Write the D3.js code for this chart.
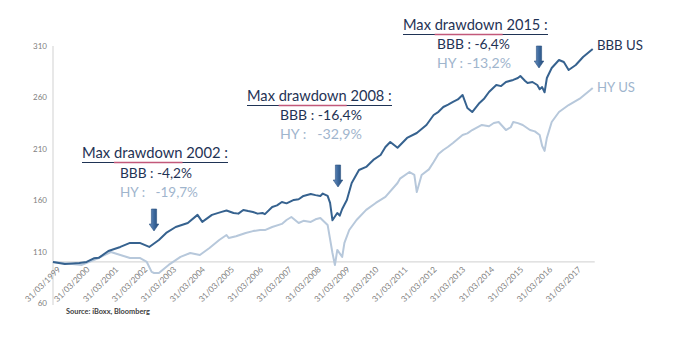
<!DOCTYPE html>
<html><head><meta charset="utf-8">
<script src="https://cdn.jsdelivr.net/npm/d3@7"></script>
<style>
html,body{margin:0;padding:0;background:#fff;}
svg{display:block;}
text{font-family:Lato,"Open Sans",sans-serif;}
</style></head>
<body>
<svg id="chart" width="696" height="339"></svg>
<script>
// ---------- DATA ----------
const bbbDates = ["1999-02","1999-07","2000-01","2000-04","2000-07","2000-09","2001-01","2001-06","2001-10","2002-02","2002-06","2002-10","2003-01","2003-05","2003-10","2004-02","2004-04","2004-08","2004-12","2005-02","2005-05","2005-07","2005-09","2005-11","2006-01","2006-03","2006-05","2006-06","2006-09","2006-11","2007-01","2007-03","2007-06","2007-08","2007-10","2008-01","2008-03","2008-05","2008-06","2008-08","2008-09","2008-10","2008-12","2009-01","2009-02","2009-04","2009-06","2009-09","2009-12","2010-03","2010-06","2010-08","2010-10","2011-01","2011-05","2011-09","2012-01","2012-04","2012-06","2012-08","2012-10","2012-12","2013-02","2013-04","2013-06","2013-08","2013-11","2014-01","2014-03","2014-06","2014-08","2014-10","2015-01","2015-03","2015-04","2015-06","2015-07","2015-09","2015-11","2015-12","2016-01","2016-02","2016-03","2016-05","2016-08","2016-10","2016-12","2017-03","2017-06","2017-10"];
const bbbValues = [100,98,99,100,103.5,104,110.7,114.6,118.5,118.5,114.6,121.4,128.2,134,137.9,145.8,139,145.8,148.7,150,147.6,147,150.6,149.5,148.6,147,147.6,146.5,153.5,155,158.3,157,160.3,161,164.2,166.1,165,164.2,166.5,164.2,157.4,140.5,147.6,145,151.5,160.3,176.8,189.4,192.4,199.2,204,211.8,216.7,211,220.6,225.4,233.2,242.9,246,250.7,253,255.6,258,262.4,249.7,245.8,254.6,259,265.3,272.1,271,275,277,278.9,280.8,276,274,275,272.1,268,270,265,278.9,288.6,296.4,294.4,286.7,291.5,299.3,307.1];

const hyDates = ["1999-02","2000-02","2000-09","2001-02","2001-06","2001-10","2002-02","2002-05","2002-07","2002-08","2002-10","2003-02","2003-07","2003-11","2004-03","2004-07","2004-11","2005-02","2005-03","2005-06","2005-10","2006-01","2006-04","2006-06","2006-09","2007-01","2007-03","2007-05","2007-08","2007-10","2008-01","2008-03","2008-05","2008-08","2008-10","2008-11","2008-12","2009-02","2009-03","2009-05","2009-08","2009-12","2010-04","2010-08","2011-01","2011-02","2011-06","2011-08","2011-09","2011-11","2012-02","2012-04","2012-06","2012-08","2012-10","2012-12","2013-04","2013-06","2013-08","2013-12","2014-03","2014-05","2014-07","2014-10","2014-12","2015-01","2015-03","2015-05","2015-08","2015-10","2015-12","2016-01","2016-02","2016-03","2016-05","2016-08","2016-12","2017-05","2017-09","2017-10"];
const hyValues = [100,97.1,103.9,109.7,106.8,103.9,103.9,100,90.3,89.3,89.3,97.1,104.9,108.7,106.8,113.6,121.4,126.2,123.3,125,128.2,130,131.1,131,134,137,140.8,143.7,137.9,140,138.9,141.5,142.8,136,108.7,97,111.7,104.9,118.5,131.1,140.8,150.6,157.4,163.2,176.8,181,187.5,184.6,168,184.6,190,197.2,205,208.9,212,215.7,223.5,225,228.3,233.2,232,235.1,236.1,228.3,231,236.1,235,233.2,228.3,227,223.5,213,208,220.6,236.1,245.8,252.6,259.4,267.2,269.2];

const yTicks = [60,110,160,210,260,310];
const xTickYears = [1999,2000,2001,2002,2003,2004,2005,2006,2007,2008,2009,2010,2011,2012,2013,2014,2015,2016,2017];
const xTickLabels = xTickYears.map(y => "31/03/" + y);

const annotations = [
  {title:"Max drawdown 2002 :", bbb:"BBB : -4,2%", hy:"HY :   -19,7%"},
  {title:"Max drawdown 2008 :", bbb:"BBB : -16,4%", hy:"HY :   -32,9%"},
  {title:"Max drawdown 2015 :", bbb:"BBB : -6,4%", hy:"HY : -13,2%"}
];
const seriesNames = ["BBB US","HY US"];
const sourceText = "Source: iBoxx, Bloomberg";

// ---------- LAYOUT ----------
const svg = d3.select("#chart");
const parse = d3.timeParse("%Y-%m");
const x = d3.scaleTime().domain([new Date(1999,0,1), new Date(2018,0,1)]).range([50.5, 600]);
const y = d3.scaleLinear().domain([60,310]).range([303.1, 46]);

const navy = "#1f3355", bbbCol = "#36628f", hyCol = "#b7c8db", hyText = "#9fb5cd", gridCol = "#d9d9d9", tickCol = "#808080";

const axisX0 = 53;
const bbbData = bbbDates.map((d,i)=>({date:parse(d), v:bbbValues[i]}));
const hyData = hyDates.map((d,i)=>({date:parse(d), v:hyValues[i]}));
svg.append("line").attr("x1",axisX0).attr("x2",axisX0).attr("y1",y(310)).attr("y2",y(60)+2)
   .attr("stroke",gridCol).attr("stroke-width",1.2);
svg.append("line").attr("x1",axisX0).attr("x2",x(bbbData[bbbData.length-1].date)+2).attr("y1",y(100)).attr("y2",y(100))
   .attr("stroke",gridCol).attr("stroke-width",1.2);

// y axis labels
const yAxis = d3.axisLeft(y).tickValues(yTicks).tickSize(0).tickPadding(0).tickFormat(d3.format("d"));
const gy = svg.append("g").attr("transform","translate(47,0)").call(yAxis);
gy.select(".domain").remove();
gy.selectAll("text").attr("fill",tickCol).attr("font-size",8).style("font-family","Lato, sans-serif");

// x axis labels
const xTickDates = xTickYears.map(yr => new Date(yr,2,31));
const xAxis = d3.axisBottom(x).tickValues(xTickDates).tickSize(0).tickFormat((d,i)=>xTickLabels[i]);
const gx = svg.append("g").attr("transform",`translate(0,${y(100)})`).call(xAxis);
gx.select(".domain").remove();
gx.selectAll("text").attr("fill",tickCol).attr("font-size",8.3).style("font-family","Lato, sans-serif")
  .attr("x",0).attr("y",0).attr("dy","0.35em")
  .attr("text-anchor","end").attr("transform","translate(1,6) rotate(-45)");

// lines
const line = d3.line().x(d=>x(d.date)).y(d=>y(d.v)).curve(d3.curveLinear);
svg.append("path").datum(hyData).attr("d",line).attr("fill","none").attr("stroke",hyCol).attr("stroke-width",2).attr("stroke-linejoin","round");
svg.append("path").datum(bbbData).attr("d",line).attr("fill","none").attr("stroke",bbbCol).attr("stroke-width",2).attr("stroke-linejoin","round");

// helpers
function fitText(t, w){
  const l = t.node().getComputedTextLength();
  const fs = parseFloat(t.attr("font-size"));
  t.attr("font-size", fs*w/l);
}
function addText(str, x0, base, w, col){
  const t = svg.append("text").attr("x",x0).attr("y",base).attr("font-size",15)
    .attr("fill",col).style("white-space","pre").text(str);
  fitText(t,w);
  return t;
}

// annotation positions
const annoPos = [
  {tx:82, tb:158, tw:146, lx:120, bb:178, bw:72, hb:197, hw:78},
  {tx:247, tb:101, tw:145, lx:280, bb:120, bw:82, hb:139, hw:82},
  {tx:403, tb:30, tw:145, lx:437, bb:49, bw:73, hb:68, hw:74}
];
annotations.forEach((a,i)=>{
  const p = annoPos[i];
  const t = addText(a.title, p.tx, p.tb, p.tw, navy);
  const n = t.node();
  const ul = p.tb + 4.5;
  svg.append("line").attr("x1",p.tx).attr("x2",p.tx+p.tw).attr("y1",ul).attr("y2",ul).attr("stroke",navy).attr("stroke-width",1.2);
  const s = n.getStartPositionOfChar(4).x, e = n.getEndPositionOfChar(11).x;
  svg.append("line").attr("x1",s).attr("x2",e).attr("y1",ul).attr("y2",ul).attr("stroke","#c2587a").attr("stroke-width",1.3);
  addText(a.bbb, p.lx, p.bb, p.bw, navy);
  addText(a.hy, p.lx, p.hb, p.hw, hyText);
});

// arrows
const defs = svg.append("defs");
const grad = defs.append("linearGradient").attr("id","ag").attr("x1",0).attr("x2",1).attr("y1",0).attr("y2",0);
grad.append("stop").attr("offset","0%").attr("stop-color","#6e93c2");
grad.append("stop").attr("offset","50%").attr("stop-color","#3c689c");
grad.append("stop").attr("offset","100%").attr("stop-color","#244a78");
const arrowPos = [{cx:154, top:209, bot:231},{cx:338, top:165, bot:187},{cx:539, top:46, bot:68}];
arrowPos.forEach(a=>{
  const sw=2.6, hw=4.8, hh=7;
  const p = `M${a.cx-sw},${a.top} L${a.cx+sw},${a.top} L${a.cx+sw},${a.bot-hh} L${a.cx+hw},${a.bot-hh} L${a.cx},${a.bot} L${a.cx-hw},${a.bot-hh} L${a.cx-sw},${a.bot-hh} Z`;
  svg.append("path").attr("d",p).attr("fill","url(#ag)").attr("stroke","#2c5282").attr("stroke-width",0.6);
});

// series labels
addText(seriesNames[0], 597, 50, 46, navy);
addText(seriesNames[1], 597, 92, 38, hyText);

// source
const src = svg.append("text").attr("x",66).attr("y",314).attr("font-size",7.5).attr("font-weight","bold").attr("fill","#404040").text(sourceText);
fitText(src, 84);
</script>
</body></html>
